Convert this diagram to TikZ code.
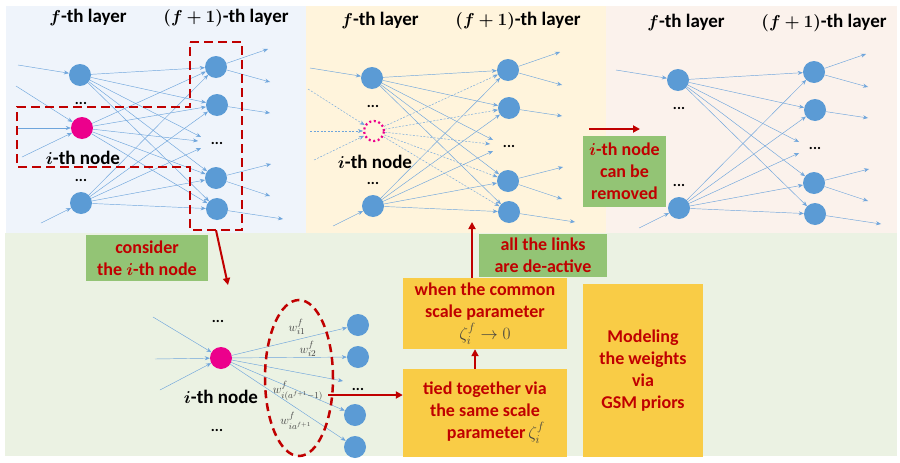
\documentclass[tikz,border=0pt]{standalone}
\usepackage{fontspec}
\setmainfont{Carlito}
\usepackage{amsmath}
\usepackage{bm}
\usetikzlibrary{arrows.meta,calc,shapes.geometric}

\definecolor{nodeblue}{RGB}{91,155,213}
\definecolor{linkblue}{RGB}{110,165,220}
\definecolor{darkred}{RGB}{192,0,0}
\definecolor{boxgreen}{RGB}{147,196,117}
\definecolor{boxgold}{RGB}{249,204,70}
\definecolor{bgblue}{RGB}{239,244,251}
\definecolor{bgyellow}{RGB}{255,244,220}
\definecolor{bgpink}{RGB}{251,242,236}
\definecolor{bggreen}{RGB}{235,242,227}
\definecolor{wgrey}{RGB}{64,64,64}

\tikzset{
  neuron/.style={circle,fill=nodeblue,minimum size=22pt,inner sep=0pt},
  hot/.style={neuron,fill=magenta},
  ghost/.style={circle,draw=magenta,line width=2.2pt,dash pattern=on 2pt off 2.6pt,minimum size=20pt,inner sep=0pt},
  link/.style={draw=linkblue,line width=0.45pt,-{Stealth[length=5pt,width=4pt]}},
  deadlink/.style={link,dash pattern=on 2pt off 1.5pt},
  dotsnode/.style={font=\bfseries\fontsize{15}{15}\selectfont,inner sep=0pt},
  layerlbl/.style={font=\bfseries\fontsize{19}{21}\selectfont,inner sep=0pt},
  nodelbl/.style={font=\bfseries\fontsize{19}{21}\selectfont,inner sep=0pt},
  note/.style={font=\bfseries\fontsize{18}{22}\selectfont,text=darkred,align=center,inner sep=0pt},
  greennote/.style={note,fill=boxgreen},
  goldnote/.style={note,fill=boxgold},
  wlabel/.style={text=wgrey,font=\fontsize{13}{14}\selectfont,inner sep=0pt},
  redarrow/.style={draw=darkred,line width=2pt,-{Triangle[length=7pt,width=7pt]}},
  reddash/.style={draw=darkred,line width=2.5pt,dash pattern=on 9pt off 5pt},
}

% one f-th / (f+1)-th layer pair; #1 name prefix, #2 origin,
% #3 middle node: 0 highlighted, 1 switched off, 2 removed
\newcommand\netpanel[3]{%
  \begin{scope}[shift={#2}]
    \node[layerlbl] (#1lf) at (8,-57) {$\bm{f}$-th layer};
    \node[layerlbl] (#1lg) at (146,-57) {$\bm{(f+1)}$-th layer};
    \node[neuron] (#1f1) at (0,0) {};
    \node[neuron] (#1f3) at (1,128) {};
    \node[dotsnode] (#1df1) at (1,28) {...};
    \node[dotsnode] (#1df2) at (1,105) {...};
    \node[neuron] (#1g1) at (136,-8) {};
    \node[neuron] (#1g2) at (137,30) {};
    \node[neuron] (#1g3) at (136,103) {};
    \node[neuron] (#1g4) at (137,134) {};
    \node[dotsnode] (#1dg) at (137,68) {...};
    \coordinate (#1d1) at (121,62);
    \coordinate (#1d2) at (118,66);
    \coordinate (#1d3) at (121,73);
    % incoming links
    \coordinate (#1i1) at (-62,-10);
    \coordinate (#1i5) at (-39,148);
    \draw[link] (#1i1) -- (#1f1);
    \draw[link] (#1i5) -- (#1f3);
    % outgoing links
    \coordinate (#1o1) at (188,-26);
    \coordinate (#1o2) at (190,7);
    \coordinate (#1o3) at (190,38);
    \coordinate (#1o4) at (191,89);
    \coordinate (#1o5) at (190,121);
    \coordinate (#1o6) at (203,144);
    \draw[link] (#1g1) -- (#1o1);
    \draw[link] (#1g1) -- (#1o2);
    \draw[link] (#1g2) -- (#1o3);
    \draw[link] (#1g3) -- (#1o4);
    \draw[link] (#1g3) -- (#1o5);
    \draw[link] (#1g4) -- (#1o6);
    % fully connected links
    \foreach \s in {f1,f3}{
      \foreach \t in {g1,g2,g3,g4}{
        \draw[link] (#1\s) -- (#1\t);
      }
    }
    \draw[link] (#1f1) -- (#1d1);
    \draw[link] (#1f3) -- (#1d3);
    \coordinate (#1i2) at (-64,11);
    \coordinate (#1i3) at (-62,53);
    \coordinate (#1i4) at (-58,82);
    \ifcase#3
      \node[hot] (#1fm) at (2,53) {};
      \node[nodelbl] (#1il) at (3,83) {$\bm{i}$-th node};
      \foreach \t in {g1,g2,g3,g4}{\draw[link] (#1fm) -- (#1\t);}
      \draw[link] (#1fm) -- (#1d2);
      \foreach \c in {i2,i3,i4}{\draw[link] (#1\c) -- (#1fm);}
    \or
      \node[ghost] (#1fm) at (2,53) {};
      \node[nodelbl] (#1il) at (3,84) {$\bm{i}$-th node};
      \foreach \t in {g1,g2,g3,g4}{\draw[deadlink] (#1fm) -- (#1\t);}
      \draw[deadlink] (#1fm) -- (#1d2);
      \foreach \c in {i2,i3,i4}{\draw[deadlink] (#1\c) -- (#1fm);}
    \or
    \fi
  \end{scope}}

\begin{document}
\begin{tikzpicture}[x=1pt,y=-1pt]
  \useasboundingbox (0,0) rectangle (900,463);
  \fill[white] (0,0) rectangle (900,463);

  % background panels
  \fill[bgblue] (6,6) rectangle (306,233);
  \fill[bgyellow] (306,6) rectangle (606,233);
  \fill[bgpink] (606,6) rectangle (897,233);
  \fill[bggreen] (5,233) rectangle (897,456);

  % the three network snapshots
  \netpanel{a}{(80,75)}{0}
  \netpanel{b}{(372,78)}{1}
  \netpanel{c}{(678,80)}{2}

  % selection outline around the i-th node and the next layer
  \node[minimum width=52pt,minimum height=188pt,inner sep=0pt] (selbox) at (216,136) {};
  \draw[reddash] (190,42) -- (242,42) -- (242,230) -- (190,230) -- (190,167)
    -- (17,167) -- (17,107) -- (190,107) -- cycle;

  \coordinate (focus) at (228,285);
  \draw[redarrow] (selbox.south) -- (focus);

  \node[greennote,minimum width=122pt,minimum height=46pt] (consider) at (147,258)
    {consider\\the $\bm{i}$-th node};

  % close-up of the outgoing weights of the i-th node
  \node[hot] (bm) at (221,358) {};
  \node[dotsnode] (bdu) at (218,321) {...};
  \node[dotsnode] (bdl) at (217,430) {...};
  \node[nodelbl] (bil) at (221,397) {$\bm{i}$-th node};
  \coordinate (bi1) at (153,317);
  \coordinate (bi2) at (155,359);
  \coordinate (bi3) at (160,390);
  \foreach \c in {bi1,bi2,bi3}{\draw[link] (\c) -- (bm);}
  \node[neuron] (bt1) at (358,325) {};
  \node[neuron] (bt2) at (358,357) {};
  \node[neuron] (bt3) at (355,415) {};
  \node[neuron] (bt4) at (355,447) {};
  \node[dotsnode] (btd) at (358,389) {...};
  \coordinate (bdt) at (343,381);
  \foreach \t in {bt1,bt2,bdt,bt3,bt4}{\draw[link] (bm) -- (\t);}

  \node[wlabel] (w1) at (297,327) {$w_{i1}^{f}$};
  \node[wlabel] (w2) at (308,349) {$w_{i2}^{f}$};
  \node[wlabel] (w3) at (298,391) {$w_{i(a^{f+1}-1)}^{f}$};
  \node[wlabel] (w4) at (296,421) {$w_{ia^{f+1}}^{f}$};

  \node[ellipse,draw=darkred,line width=2.5pt,dash pattern=on 8pt off 5pt,
        minimum width=68pt,minimum height=156pt,inner sep=0pt] (ring) at (299,378) {};

  % explanation boxes
  \node[goldnote,minimum width=164pt,minimum height=88pt] (tied) at (485,413)
    {tied together via\\the same scale\\\hspace*{1.2em}parameter$\,\color{wgrey}\zeta_i^f$};
  \node[goldnote,minimum width=164pt,minimum height=71pt] (when) at (485,313.5)
    {when the common\\scale parameter\\$\color{wgrey}\zeta_i^f\to 0$};
  \node[greennote,minimum width=128pt,minimum height=43pt] (links) at (543,255.5)
    {all the links\\are de-active};
  \node[goldnote,minimum width=120pt,minimum height=173pt] (gsm) at (643,370.5)
    {Modeling\\the weights\\via\\GSM priors};
  \node[greennote,minimum width=83pt,minimum height=71pt] (removed) at (624.5,171.5)
    {$\bm{i}$-th node\\can be\\removed};

  % red arrows between the stages
  \coordinate (ringout) at (328,395);
  \draw[redarrow] (ringout) -- (ringout -| tied.west);
  \draw[redarrow] ([xshift=-10pt]tied.north) -- ([xshift=-10pt]when.south);
  \coordinate (upend) at (472,222);
  \draw[redarrow] (when.north -| upend) -- (upend);
  \coordinate (rmstart) at (589,129);
  \coordinate (rmend) at (640,129);
  \draw[redarrow] (rmstart) -- (rmend);
\end{tikzpicture}
\end{document}
